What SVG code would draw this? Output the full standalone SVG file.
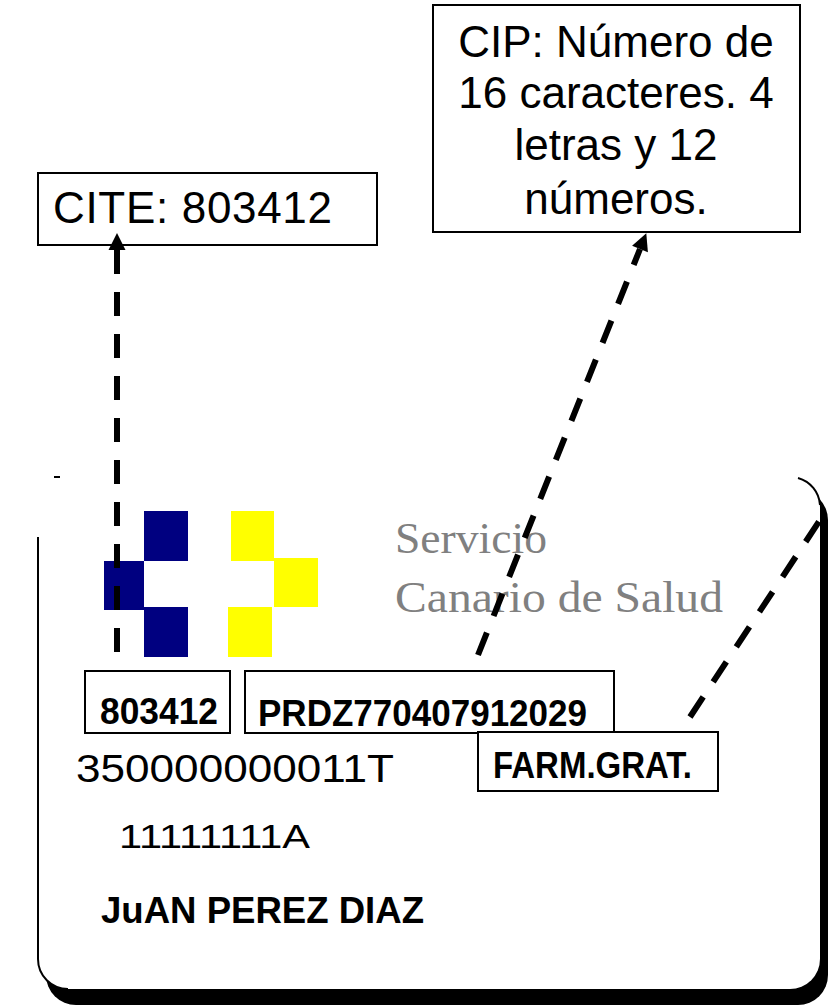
<svg xmlns="http://www.w3.org/2000/svg" width="828" height="1005" viewBox="0 0 828 1005">
<style>
.box{fill:#fff;stroke:#000;stroke-width:2}
.lbl{font-family:"Liberation Sans",Arial,sans-serif;font-size:44px;fill:#000}
.card{font-family:"Liberation Sans",Arial,sans-serif;fill:#000}
.b{font-weight:bold}
.conn{fill:none;stroke:#000;stroke-width:6;stroke-dasharray:24 18}
.serif{font-family:"Liberation Serif","Times New Roman",serif;font-size:44px;fill:#808080}
</style>
<defs>
<marker id="ah" markerUnits="userSpaceOnUse" markerWidth="20" markerHeight="20" viewBox="0 -10 18 20" refX="0" refY="0" orient="auto">
<path d="M0,-8.5 L17,0 L0,8.5 z" fill="#000"/>
</marker>
</defs>
<rect width="828" height="1005" fill="#fff"/>

<g id="card">
<rect x="46" y="490" width="782" height="515" rx="30" fill="#000"/>
<rect x="38" y="477" width="782" height="512" rx="30" fill="#fff"/>
<path d="M38,537 L38,959 A30,30 0 0 0 68,989" fill="none" stroke="#000" stroke-width="2"/>
<path d="M798,478 A30,30 0 0 1 820,505" fill="none" stroke="#000" stroke-width="2"/>
<path d="M54,477 L60,477" stroke="#000" stroke-width="2"/>
</g>

<g id="logo">
<rect x="144" y="511" width="44" height="50" fill="#000080"/>
<rect x="104" y="561" width="40" height="49" fill="#000080"/>
<rect x="144" y="607" width="44" height="50" fill="#000080"/>
<rect x="231" y="511" width="43" height="50" fill="#ffff00"/>
<rect x="274" y="558" width="44" height="49" fill="#ffff00"/>
<rect x="228" y="607" width="44" height="50" fill="#ffff00"/>
<text class="serif" x="395" y="553" textLength="152" lengthAdjust="spacingAndGlyphs">Servicio</text>
<text class="serif" x="395" y="612" textLength="328" lengthAdjust="spacingAndGlyphs">Canario de Salud</text>
</g>

<g id="cite-box">
<rect class="box" x="38" y="173" width="339" height="72"/>
<text class="lbl" x="53" y="223" textLength="279">CITE: 803412</text>
</g>

<g id="cip-box">
<rect class="box" x="433" y="5" width="367" height="227"/>
<text class="lbl" x="616" y="57" text-anchor="middle">CIP: Número de</text>
<text class="lbl" x="616" y="108" text-anchor="middle">16 caracteres. 4</text>
<text class="lbl" x="616" y="160" text-anchor="middle">letras y 12</text>
<text class="lbl" x="616" y="214" text-anchor="middle">números.</text>
</g>

<g id="cite-field">
<rect class="box" x="85" y="671" width="145" height="62"/>
<text class="card b" x="100" y="724" font-size="36" textLength="118" lengthAdjust="spacingAndGlyphs">803412</text>
</g>

<g id="cip-field">
<rect class="box" x="245" y="671" width="369" height="62"/>
<text class="card b" x="258" y="726" font-size="36" textLength="329" lengthAdjust="spacingAndGlyphs">PRDZ770407912029</text>
</g>

<g id="farm-field">
<rect class="box" x="478" y="732" width="240" height="59"/>
<text class="card b" x="493" y="778" font-size="36" textLength="199" lengthAdjust="spacingAndGlyphs">FARM.GRAT.</text>
</g>

<g id="card-text">
<text class="card" x="76" y="782" font-size="38" textLength="318" lengthAdjust="spacingAndGlyphs">350000000011T</text>
<text class="card" x="119" y="848" font-size="33" textLength="191" lengthAdjust="spacingAndGlyphs">11111111A</text>
<text class="card b" x="101" y="923" font-size="36" textLength="323" lengthAdjust="spacingAndGlyphs">JuAN PEREZ DIAZ</text>
</g>

<g id="connectors">
<path class="conn" d="M117,652 L117,250" marker-end="url(#ah)"/>
<path class="conn" d="M478,655 L640,249" marker-end="url(#ah)"/>
<path class="conn" d="M690,717 L820,520"/>
</g>
</svg>
